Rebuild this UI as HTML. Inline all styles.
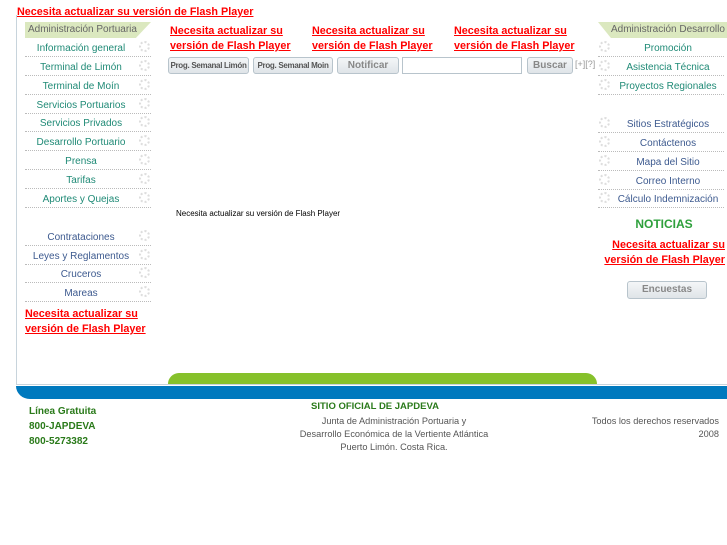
<!DOCTYPE html>
<html><head><meta charset="utf-8"><style>
*{margin:0;padding:0;box-sizing:border-box}
body{width:727px;height:545px;background:#fff;position:relative;overflow:hidden;font-family:"Liberation Sans",sans-serif}
.a{position:absolute}
.fl{position:absolute;color:#f00;font-weight:bold;font-size:10.8px;text-decoration:underline;line-height:15px;white-space:nowrap}
.row{position:absolute;height:19px;border-bottom:1px dotted #bbb;font-size:10px;line-height:18px;padding-top:2px;text-align:center;color:#1f8a76;white-space:nowrap}
.row.l{padding-right:14px}
.row.r{padding-left:14px}
.row.b{color:#3d5a8f}
.g{position:absolute;top:3px;width:11px;height:11px;border-radius:50%;border:2px dotted #ddd}
.btn{position:absolute;height:17px;top:57px;border:1px solid #b8c4cc;border-radius:3px;background:linear-gradient(#f4f6f8,#dfe4e8);font-size:8px;font-weight:bold;color:#555;text-align:center;line-height:15px;white-space:nowrap;overflow:hidden;letter-spacing:-0.3px}
.hd{position:absolute;height:16px;background:#dbe8bf;font-size:10px;color:#666;line-height:16px;white-space:nowrap}
.ft{position:absolute;font-size:9.2px;color:#555;line-height:13px}
</style></head><body>
<div class="a" style="left:16px;top:15px;width:1px;height:370px;background:#c8d4dc"></div>
<div class="a" style="left:16px;top:384px;width:711px;height:1px;background:#c8d4dc"></div>
<div class="fl" style="left:17px;top:5px">Necesita actualizar su versión de Flash Player</div>

<div class="hd" style="left:25px;top:22px;width:126px;padding-left:3px;clip-path:polygon(0 0,100% 0,88% 100%,0 100%)">Administración Portuaria</div>
<div class="row l" style="left:25px;top:38px;width:126px">Información general<span class="g" style="right:1px"></span></div>
<div class="row l" style="left:25px;top:57px;width:126px">Terminal de Limón<span class="g" style="right:1px"></span></div>
<div class="row l" style="left:25px;top:76px;width:126px">Terminal de Moín<span class="g" style="right:1px"></span></div>
<div class="row l" style="left:25px;top:95px;width:126px">Servicios Portuarios<span class="g" style="right:1px"></span></div>
<div class="row l" style="left:25px;top:113px;width:126px">Servicios Privados<span class="g" style="right:1px"></span></div>
<div class="row l" style="left:25px;top:132px;width:126px">Desarrollo Portuario<span class="g" style="right:1px"></span></div>
<div class="row l" style="left:25px;top:151px;width:126px">Prensa<span class="g" style="right:1px"></span></div>
<div class="row l" style="left:25px;top:170px;width:126px">Tarifas<span class="g" style="right:1px"></span></div>
<div class="row l" style="left:25px;top:189px;width:126px">Aportes y Quejas<span class="g" style="right:1px"></span></div>
<div class="row l b" style="left:25px;top:227px;width:126px">Contrataciones<span class="g" style="right:1px"></span></div>
<div class="row l b" style="left:25px;top:246px;width:126px">Leyes y Reglamentos<span class="g" style="right:1px"></span></div>
<div class="row l b" style="left:25px;top:264px;width:126px">Cruceros<span class="g" style="right:1px"></span></div>
<div class="row l b" style="left:25px;top:283px;width:126px">Mareas<span class="g" style="right:1px"></span></div>
<div class="fl" style="left:25px;top:307px">Necesita actualizar su<br>versión de Flash Player</div>

<div class="fl" style="left:170px;top:24px">Necesita actualizar su<br>versión de Flash Player</div>
<div class="fl" style="left:312px;top:24px">Necesita actualizar su<br>versión de Flash Player</div>
<div class="fl" style="left:454px;top:24px">Necesita actualizar su<br>versión de Flash Player</div>
<div class="btn" style="left:168px;width:81px">Prog. Semanal Limón</div>
<div class="btn" style="left:253px;width:80px">Prog. Semanal Moin</div>
<div class="btn" style="left:337px;width:62px;font-size:10px;color:#888;letter-spacing:0">Notificar</div>
<div class="a" style="left:402px;top:57px;width:120px;height:17px;border:1px solid #b8c4cc"></div>
<div class="btn" style="left:527px;width:46px;font-size:10px;color:#888;letter-spacing:0">Buscar</div>
<div class="a" style="left:575px;top:59px;font-size:9px;color:#999">[+][?]</div>
<div class="a" style="left:176px;top:209px;font-size:8px;color:#000">Necesita actualizar su versión de Flash Player</div>

<div class="hd" style="left:598px;top:22px;width:129px;padding-left:13px;clip-path:polygon(0 0,100% 0,100% 100%,10% 100%)">Administración Desarrollo</div>
<div class="row r" style="left:598px;top:38px;width:126px">Promoción<span class="g" style="left:1px"></span></div>
<div class="row r" style="left:598px;top:57px;width:126px">Asistencia Técnica<span class="g" style="left:1px"></span></div>
<div class="row r" style="left:598px;top:76px;width:126px">Proyectos Regionales<span class="g" style="left:1px"></span></div>
<div class="row r b" style="left:598px;top:114px;width:126px">Sitios Estratégicos<span class="g" style="left:1px"></span></div>
<div class="row r b" style="left:598px;top:133px;width:126px">Contáctenos<span class="g" style="left:1px"></span></div>
<div class="row r b" style="left:598px;top:152px;width:126px">Mapa del Sitio<span class="g" style="left:1px"></span></div>
<div class="row r b" style="left:598px;top:171px;width:126px">Correo Interno<span class="g" style="left:1px"></span></div>
<div class="row r b" style="left:598px;top:189px;width:126px">Cálculo Indemnización<span class="g" style="left:1px"></span></div>
<div class="a" style="left:598px;top:217px;width:132px;text-align:center;font-size:12px;font-weight:bold;color:#2ea03c">NOTICIAS</div>
<div class="fl" style="left:603px;top:238px;width:122px;text-align:right">Necesita actualizar su<br>versión de Flash Player</div>
<div class="btn" style="left:627px;top:281px;width:80px;height:18px;font-size:10px;line-height:16px;color:#888;letter-spacing:0">Encuestas</div>

<div class="a" style="left:168px;top:373px;width:429px;height:11px;background:#86c12b;border-radius:12px 12px 0 0"></div>
<div class="a" style="left:16px;top:386px;width:711px;height:13px;background:#0079be;border-radius:0 0 0 14px/0 0 0 13px"></div>

<div class="a" style="left:29px;top:404px;font-size:10px;font-weight:bold;color:#2a7a1a;line-height:15px">Línea Gratuita<br>800-JAPDEVA<br>800-5273382</div>
<div class="a" style="left:260px;top:401px;width:230px;text-align:center;font-size:9.5px;font-weight:bold;color:#2a7a1a">SITIO OFICIAL DE JAPDEVA</div>
<div class="ft" style="left:244px;top:415px;width:300px;text-align:center">Junta de Administración Portuaria y<br>Desarrollo Económica de la Vertiente Atlántica<br>Puerto Limón. Costa Rica.</div>
<div class="ft" style="left:540px;top:415px;width:179px;text-align:right">Todos los derechos reservados<br>2008</div>
</body></html>
